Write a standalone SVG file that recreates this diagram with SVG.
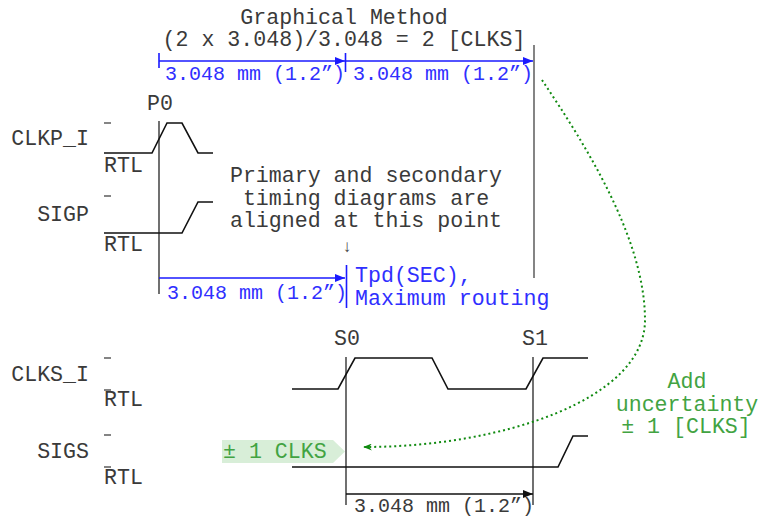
<svg xmlns="http://www.w3.org/2000/svg" width="762" height="517" viewBox="0 0 762 517">
  <defs>
    <style>
      text { font-family: "Liberation Mono", "Courier New", monospace; }
      .t { font-size: 21.6px; fill: #3a3a3a; }
      .d { font-size: 20px; }
      .blue { fill: #2f2fff; }
      .green { fill: #42a342; }
      .mid { text-anchor: middle; }
      .end { text-anchor: end; }
      .wave { fill: none; stroke: #111; stroke-width: 1.6; }
      .guide { fill: none; stroke: #111; stroke-width: 1.2; }
      .mark { stroke: #333; stroke-width: 1.2; }
      .bdim { stroke: #1a1aff; stroke-width: 1.6; fill: none; }
      .kdim { stroke: #111; stroke-width: 1.4; fill: none; }
      .glyph { font-family: "Liberation Sans", "DejaVu Sans", sans-serif; font-size: 17px; fill: #444; }
    </style>
    <marker id="arrBlue" viewBox="0 0 10 8" refX="10" refY="4" markerWidth="10" markerHeight="8" markerUnits="userSpaceOnUse" orient="auto">
      <path d="M0,0 L10,4 L0,8 Z" fill="#1a1aff"/>
    </marker>
    <marker id="arrBlack" viewBox="0 0 10 8" refX="10" refY="4" markerWidth="10" markerHeight="8" markerUnits="userSpaceOnUse" orient="auto">
      <path d="M0,0 L10,4 L0,8 Z" fill="#111"/>
    </marker>
    <marker id="arrGreen" viewBox="0 0 10 8" refX="9" refY="4" markerWidth="10" markerHeight="7" markerUnits="userSpaceOnUse" orient="auto">
      <path d="M0,0 L10,4 L0,8 L3,4 Z" fill="#108a10"/>
    </marker>
  </defs>

  <rect width="762" height="517" fill="#fff"/>

  <!-- Title -->
  <g id="title">
    <text class="t mid" x="344" y="24">Graphical Method</text>
    <text class="t mid" x="344" y="46">(2 x 3.048)/3.048 = 2 [CLKS]</text>
  </g>

  <!-- Primary clock -->
  <g id="clkp">
    <text class="t end" x="89" y="145">CLKP_I</text>
    <line class="mark" x1="104" y1="123" x2="111" y2="123"/>
    <path class="wave" d="M104,153 L152,153 L167,123 L182,123 L198,153 L213,153"/>
    <text class="t" x="104" y="172">RTL</text>
    <text class="t mid" x="160" y="110">P0</text>
  </g>

  <!-- Primary signal -->
  <g id="sigp">
    <text class="t end" x="89" y="221">SIGP</text>
    <line class="mark" x1="104" y1="196" x2="111" y2="196"/>
    <path class="wave" d="M104,233 L182,233 L198,202 L213,202"/>
    <text class="t" x="104" y="251">RTL</text>
  </g>

  <!-- Alignment note -->
  <g id="note">
    <text class="t mid" x="366" y="182">Primary and secondary</text>
    <text class="t mid" x="366" y="205">timing diagrams are</text>
    <text class="t mid" x="366" y="227">aligned at this point</text>
    <text class="glyph" x="347" y="252" text-anchor="middle">↓</text>
  </g>

  <!-- Secondary clock -->
  <g id="clks">
    <text class="t end" x="89" y="381">CLKS_I</text>
    <line class="mark" x1="104" y1="358" x2="111" y2="358"/>
    <line class="mark" x1="104" y1="390" x2="111" y2="390"/>
    <path class="wave" d="M292,389 L338,389 L355,358 L432,358 L448,389 L526,389 L543,358 L588,358"/>
    <text class="t" x="104" y="406">RTL</text>
    <text class="t mid" x="347" y="345">S0</text>
    <text class="t mid" x="535" y="345">S1</text>
  </g>

  <!-- Secondary signal -->
  <g id="sigs">
    <text class="t end" x="89" y="458">SIGS</text>
    <line class="mark" x1="104" y1="435" x2="111" y2="435"/>
    <line class="mark" x1="104" y1="467" x2="111" y2="467"/>
    <path class="wave" d="M292,467 L558,467 L573,436 L588,436"/>
    <text class="t" x="104" y="484">RTL</text>
  </g>

  <!-- Uncertainty tag -->
  <g id="uncertainty-tag">
    <path d="M222,440 L333,440 L345,451.5 L333,463 L222,463 Z" fill="#d8eed8"/>
    <text class="t green" x="223" y="458">± 1 CLKS</text>
  </g>

  <!-- Uncertainty note -->
  <g id="uncertainty-note">
    <text class="t green mid" x="687" y="388">Add</text>
    <text class="t green mid" x="687" y="411">uncertainty</text>
    <text class="t green mid" x="686" y="433">± 1 [CLKS]</text>
  </g>

  <!-- Dimension labels -->
  <g id="dimensions">
    <text class="d blue" x="165" y="80">3.048 mm (1.2”)</text>
    <text class="d blue" x="353" y="80">3.048 mm (1.2”)</text>
    <text class="d blue" x="167" y="299">3.048 mm (1.2”)</text>
    <text class="t blue" x="355" y="282">Tpd(SEC),</text>
    <text class="t blue" x="355" y="305">Maximum routing</text>
    <text class="d" x="354" y="512" fill="#3a3a3a">3.048 mm (1.2”)</text>
  </g>

  <!-- Connectors: guide lines, dimension arrows, curved arrow -->
  <g id="connectors">
    <line class="guide" x1="159" y1="121" x2="159" y2="294"/>
    <line x1="534" y1="45" x2="534" y2="278" stroke="#666" stroke-width="1.6"/>
    <line class="guide" x1="346" y1="357" x2="346" y2="505"/>
    <line class="guide" x1="533" y1="357" x2="533" y2="505"/>

    <line class="bdim" x1="159" y1="53" x2="159" y2="68"/>
    <line class="bdim" x1="345.5" y1="53" x2="345.5" y2="72"/>
    <line class="bdim" x1="159" y1="61" x2="345" y2="61" marker-end="url(#arrBlue)"/>
    <line class="bdim" x1="346" y1="61" x2="533" y2="61" marker-end="url(#arrBlue)"/>

    <line class="bdim" x1="159" y1="278" x2="345" y2="278" marker-end="url(#arrBlue)"/>
    <line class="bdim" x1="346.5" y1="265" x2="346.5" y2="308"/>

    <line class="kdim" x1="346" y1="494" x2="533" y2="494" marker-end="url(#arrBlack)"/>

    <path d="M542,80 C587,147 645,240 645,320 C645,400 500,447 364,447" fill="none" stroke="#108a10" stroke-width="2" stroke-dasharray="2 3" marker-end="url(#arrGreen)"/>
  </g>
</svg>
